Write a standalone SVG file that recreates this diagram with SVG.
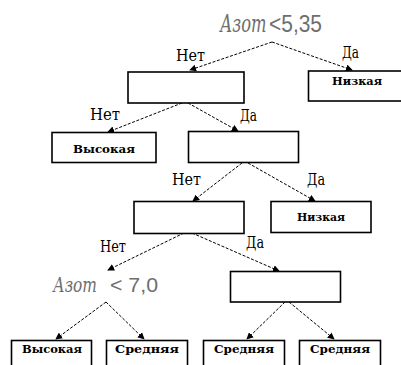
<svg xmlns="http://www.w3.org/2000/svg" width="401" height="365" viewBox="0 0 401 365">
<defs>
<style>
.box{fill:#fff;stroke:#000;stroke-width:1.6}
.edge{fill:none;stroke:#000;stroke-width:1;stroke-dasharray:3 1.6}
.lbl{font-family:'DejaVu Serif','Liberation Serif',serif;font-size:16px;fill:#000}
.bt{font-family:'DejaVu Serif','Liberation Serif',serif;font-size:11px;font-weight:bold;fill:#000}
.cond{font-family:'Liberation Sans','DejaVu Sans',sans-serif;fill:#6e6e6e}
.it{font-family:'DejaVu Serif','Liberation Serif',serif;font-style:italic;fill:#6e6e6e}
</style>
<marker id="ah" viewBox="0 0 8 8" refX="7" refY="4" markerWidth="7" markerHeight="7" markerUnits="userSpaceOnUse" orient="auto">
<path d="M0,0 L8,4 L0,8 z" fill="#000"/>
</marker>
</defs>
<rect width="401" height="365" fill="#fff"/>
<g id="connectors">
<line class="edge" x1="272" y1="42" x2="190" y2="70" marker-end="url(#ah)"/>
<line class="edge" x1="272" y1="42" x2="352" y2="70" marker-end="url(#ah)"/>
<line class="edge" x1="182" y1="103" x2="108" y2="132" marker-end="url(#ah)"/>
<line class="edge" x1="188" y1="103" x2="238" y2="131" marker-end="url(#ah)"/>
<line class="edge" x1="242" y1="163" x2="193" y2="201" marker-end="url(#ah)"/>
<line class="edge" x1="248" y1="163" x2="315" y2="201" marker-end="url(#ah)"/>
<line class="edge" x1="184" y1="233" x2="108" y2="270" marker-end="url(#ah)"/>
<line class="edge" x1="192" y1="233" x2="279" y2="271" marker-end="url(#ah)"/>
<line class="edge" x1="106" y1="302" x2="56" y2="339" marker-end="url(#ah)"/>
<line class="edge" x1="106" y1="302" x2="144" y2="339" marker-end="url(#ah)"/>
<line class="edge" x1="285" y1="302" x2="247" y2="339" marker-end="url(#ah)"/>
<line class="edge" x1="289" y1="302" x2="334" y2="339" marker-end="url(#ah)"/>
</g>
<g id="edge-labels">
<text class="lbl" x="176" y="61" textLength="29" lengthAdjust="spacingAndGlyphs">Нет</text>
<text class="lbl" x="342" y="58" textLength="17" lengthAdjust="spacingAndGlyphs">Да</text>
<text class="lbl" x="90" y="120" textLength="30" lengthAdjust="spacingAndGlyphs">Нет</text>
<text class="lbl" x="240" y="121" textLength="17" lengthAdjust="spacingAndGlyphs">Да</text>
<text class="lbl" x="172" y="185" textLength="29" lengthAdjust="spacingAndGlyphs">Нет</text>
<text class="lbl" x="307" y="185" textLength="18" lengthAdjust="spacingAndGlyphs">Да</text>
<text class="lbl" x="100" y="252" textLength="26" lengthAdjust="spacingAndGlyphs">Нет</text>
<text class="lbl" x="246" y="248" textLength="18" lengthAdjust="spacingAndGlyphs">Да</text>
</g>
<g id="root">
<text class="it" transform="translate(220,32) scale(0.68,1)" x="0" y="0" font-size="24">Азот</text>
<text class="cond" x="269" y="32" font-size="24" textLength="53" lengthAdjust="spacingAndGlyphs">&lt;5,35</text>
</g>
<g id="n1"><rect class="box" x="128" y="72" width="116" height="31"/></g>
<g id="n2"><rect class="box" x="308.5" y="71" width="98" height="30"/><text class="bt" x="357" y="85" text-anchor="middle" textLength="50" lengthAdjust="spacingAndGlyphs">Низкая</text></g>
<g id="n3"><rect class="box" x="52" y="132.5" width="104" height="30"/><text class="bt" x="104" y="153" text-anchor="middle" textLength="62" lengthAdjust="spacingAndGlyphs">Высокая</text></g>
<g id="n4"><rect class="box" x="188.5" y="131.5" width="110" height="31"/></g>
<g id="n5"><rect class="box" x="134" y="201.5" width="110" height="32"/></g>
<g id="n6"><rect class="box" x="271" y="201.5" width="100" height="31"/><text class="bt" x="321" y="221" text-anchor="middle" textLength="48" lengthAdjust="spacingAndGlyphs">Низкая</text></g>
<g id="n7">
<text class="it" x="53" y="292" font-size="21" textLength="44" lengthAdjust="spacingAndGlyphs">Азот</text>
<text class="cond" x="110" y="292" font-size="21" textLength="48" lengthAdjust="spacingAndGlyphs">&lt; 7,0</text>
</g>
<g id="n8"><rect class="box" x="230.5" y="271.5" width="110" height="30.5"/></g>
<g id="n9"><rect class="box" x="11.5" y="340.5" width="80" height="32"/><text class="bt" x="52" y="353" text-anchor="middle" textLength="60" lengthAdjust="spacingAndGlyphs">Высокая</text></g>
<g id="n10"><rect class="box" x="106.5" y="340.5" width="81" height="32"/><text class="bt" x="147" y="353" text-anchor="middle" textLength="64" lengthAdjust="spacingAndGlyphs">Средняя</text></g>
<g id="n11"><rect class="box" x="203.5" y="340.5" width="81" height="32"/><text class="bt" x="244" y="353" text-anchor="middle" textLength="60" lengthAdjust="spacingAndGlyphs">Средняя</text></g>
<g id="n12"><rect class="box" x="299.5" y="340.5" width="81" height="32"/><text class="bt" x="340" y="353" text-anchor="middle" textLength="60" lengthAdjust="spacingAndGlyphs">Средняя</text></g>
</svg>
